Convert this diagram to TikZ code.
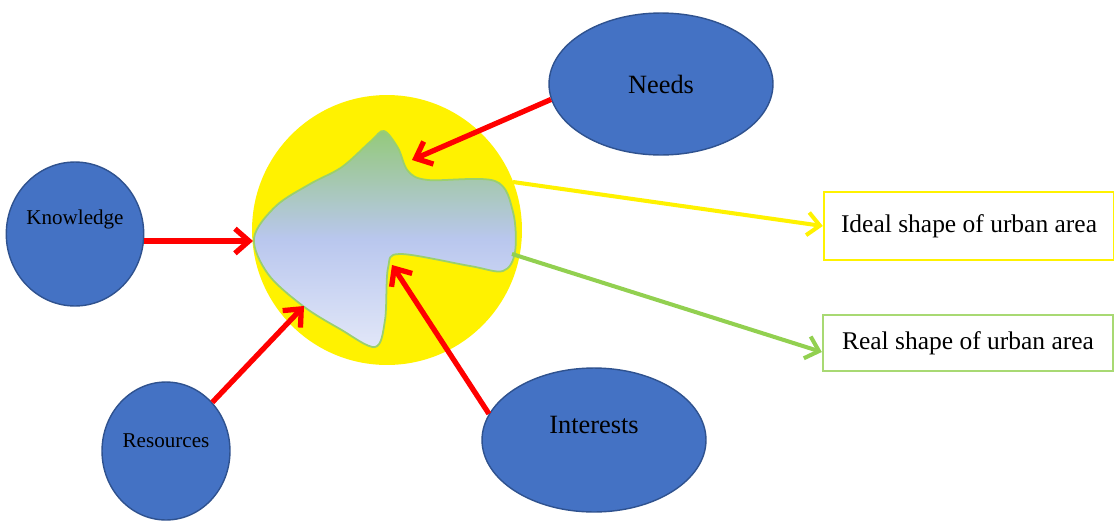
\documentclass[tikz,border=0pt]{standalone}
\usepackage{fontspec}
\setmainfont{Liberation Serif}
\usetikzlibrary{arrows.meta,shapes.geometric}

\definecolor{ovalblue}{HTML}{4472C4}
\definecolor{ovalline}{HTML}{2F528F}
\definecolor{shapegreen}{HTML}{94C97A}
\definecolor{shapeblue}{HTML}{B9C7EE}
\definecolor{shapepale}{HTML}{E2E7F8}
\definecolor{shapeline}{HTML}{9BCF6E}
\definecolor{realgreen}{HTML}{92D050}
\definecolor{arrowred}{HTML}{FF0000}

\begin{document}
\begin{tikzpicture}[x=0.02cm,y=-0.02cm,
    factor/.style={ellipse,draw=ovalline,fill=ovalblue,line width=0.8pt,inner sep=0,
      font=\fontsize{12}{14}\selectfont},
    shapebox/.style={rectangle,line width=1.4pt,minimum width=5.8cm,
      font=\fontsize{14.5}{16}\selectfont},
    redarrow/.style={arrowred,line width=3pt,-{Straight Barb[length=8pt,width=14pt]}},
    outarrow/.style={line width=2.3pt,-{Straight Barb[length=7pt,width=13pt]}}]
    \useasboundingbox (0,0) rectangle (1114,521);

    % the yellow disc and the urban area inside it
    \node (disc) at (387,230) [circle,fill=yellow,minimum size=5.4cm,inner sep=0] {};
    \fill[top color=shapegreen,bottom color=shapepale,middle color=shapeblue]
      plot[smooth cycle,tension=0.55] coordinates {(384,131) (398,148) (408,171) (428,180)
      (495,181) (513,212) (515,252) (503,271) (470,266) (400,254) (388,268) (385,320)
      (375,347) (340,329) (303,306) (268,274) (254,238) (276,206) (310,184) (342,167) (371,141)};
    \draw[shapeline,line width=1pt]
      plot[smooth cycle,tension=0.55] coordinates {(384,131) (398,148) (408,171) (428,180)
      (495,181) (513,212) (515,252) (503,271) (470,266) (400,254) (388,268) (385,320)
      (375,347) (340,329) (303,306) (268,274) (254,238) (276,206) (310,184) (342,167) (371,141)};
    \coordinate (needsin) at (412,160);
    \coordinate (knowin) at (253,241);
    \coordinate (resin) at (304,306);
    \coordinate (intin) at (392,265);
    \coordinate (idealout) at (513,182);
    \coordinate (realout) at (512,254);

    % the four factors
    \node (needs) at (661,84) [factor,minimum width=4.48cm,minimum height=2.84cm,
      font=\fontsize{15}{17}\selectfont] {Needs};
    \node (know) at (75,234) [factor,minimum width=2.6cm,minimum height=2.88cm,
      text depth=19pt] {Knowledge};
    \node (res) at (166,451) [factor,minimum width=2.56cm,minimum height=2.76cm,
      text depth=12pt] {Resources};
    \node (ints) at (594,440) [factor,minimum width=4.48cm,minimum height=2.88cm,
      font=\fontsize{15}{17}\selectfont,text depth=17pt] {Interests};

    % the two results
    \node (ideal) at (969,226) [shapebox,draw=yellow,minimum height=1.36cm] {Ideal shape of urban area};
    \node (real) at (968,343) [shapebox,draw=realgreen!80,minimum height=1.12cm] {Real shape of urban area};

    \draw[redarrow] (needs.188) -- (needsin);
    \draw[redarrow] (know.east |- knowin) -- (knowin);
    \draw[redarrow] (res) -- (resin);
    \draw[redarrow] (ints.166) -- (intin);
    \draw[outarrow,yellow] (idealout) -- (ideal.west);
    \draw[outarrow,realgreen] (realout) -- (real.west |- 0,352);
  \end{tikzpicture}
\end{document}
